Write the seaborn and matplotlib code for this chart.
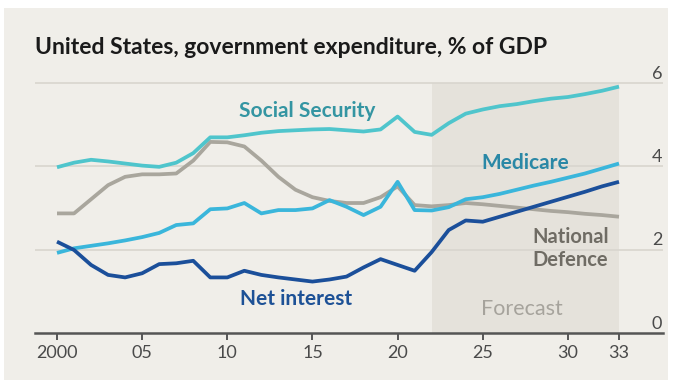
import numpy as np
import pandas as pd
import matplotlib
matplotlib.use("Agg")
import matplotlib.pyplot as plt
import seaborn as sns

years = list(range(2000, 2034))
social_security = [3.98, 4.09, 4.16, 4.12, 4.07, 4.02, 3.99, 4.09, 4.32, 4.70, 4.70, 4.75,
                   4.81, 4.85, 4.87, 4.89, 4.90, 4.87, 4.84, 4.89, 5.20, 4.83, 4.76, 5.04,
                   5.27, 5.37, 5.45, 5.50, 5.57, 5.63, 5.67, 5.74, 5.82, 5.92]
national_defence = [2.87, 2.87, 3.21, 3.55, 3.75, 3.81, 3.81, 3.83, 4.14, 4.59, 4.58, 4.48,
                    4.14, 3.75, 3.44, 3.26, 3.17, 3.12, 3.12, 3.26, 3.52, 3.07, 3.04, 3.07,
                    3.12, 3.09, 3.05, 3.01, 2.97, 2.93, 2.90, 2.86, 2.83, 2.79]
medicare = [1.92, 2.03, 2.09, 2.15, 2.22, 2.30, 2.40, 2.59, 2.63, 2.97, 2.99, 3.12,
            2.87, 2.95, 2.95, 2.99, 3.19, 3.03, 2.83, 3.03, 3.63, 2.95, 2.94, 3.02,
            3.21, 3.26, 3.34, 3.44, 3.54, 3.63, 3.73, 3.83, 3.95, 4.07]
net_interest = [2.19, 1.99, 1.63, 1.39, 1.33, 1.43, 1.65, 1.67, 1.73, 1.33, 1.33, 1.49,
                1.39, 1.33, 1.28, 1.23, 1.28, 1.35, 1.57, 1.77, 1.63, 1.49, 1.94, 2.47,
                2.70, 2.67, 2.79, 2.91, 3.03, 3.15, 3.27, 3.39, 3.52, 3.63]

series_names = ["National Defence", "Medicare", "Net interest", "Social Security"]
series_colors = {"National Defence": "#a9a69d", "Medicare": "#3ab6db",
                 "Net interest": "#1b4f9a", "Social Security": "#4fc5cc"}
label_colors = {"National Defence": "#6f6c64", "Medicare": "#2a88a6",
                "Net interest": "#1d5196", "Social Security": "#3495a2"}

x_tick_values = [2000, 2005, 2010, 2015, 2020, 2025, 2030, 2033]
x_tick_labels = ["2000", "05", "10", "15", "20", "25", "30", "33"]
y_tick_values = [0, 2, 4, 6]
forecast_start, forecast_end = 2022, 2033
title = "United States, government expenditure, % of GDP"

df = pd.DataFrame({
    "year": years * 4,
    "value": national_defence + medicare + net_interest + social_security,
    "series": (["National Defence"] * len(years) + ["Medicare"] * len(years)
               + ["Net interest"] * len(years) + ["Social Security"] * len(years)),
})

sns.set_theme(style="white")
plt.rcParams["font.family"] = ["Lato", "DejaVu Sans"]

W, H = 685, 385
fig = plt.figure(figsize=(W / 100, H / 100), dpi=100, facecolor="white")
bg = "#f0eee9"
fig.patches.append(plt.Rectangle((4 / W, 5 / H), (668 - 4) / W, (377 - 5) / H,
                                 transform=fig.transFigure, facecolor=bg,
                                 edgecolor="none", zorder=-10))

ax = fig.add_axes([35 / W, 1 - 332.7 / H, (663 - 35) / W, (332.7 - 83.3) / H])
ax.set_zorder(5)
ax.patch.set_visible(False)
ax.set_xlim(2000 - 22 / 17.03, 2033 + 44 / 17.03)
ax.set_ylim(0, 6)

ax.axvspan(forecast_start, forecast_end, color="#e5e2db", zorder=0, lw=0)
for v in y_tick_values[1:]:
    ax.axhline(v, color="#d8d5ce", lw=1.2, zorder=1)

sns.lineplot(data=df, x="year", y="value", hue="series", hue_order=series_names,
             palette=series_colors, linewidth=2.7, legend=False, ax=ax, zorder=3)
for ln in ax.lines:
    ln.set_clip_on(False)
    ln.set_solid_capstyle("butt")
    ln.set_solid_joinstyle("round")

for s in ["top", "right", "left"]:
    ax.spines[s].set_visible(False)
ax.spines["bottom"].set_color("#555555")
ax.spines["bottom"].set_linewidth(1.8)
ax.spines["bottom"].set_zorder(4)

ax.set_xticks(x_tick_values)
ax.set_xticklabels(x_tick_labels)
ax.tick_params(axis="x", direction="out", length=5, width=1.4, color="#555555",
               labelsize=13, labelcolor="#4a4a4a", pad=4, bottom=True)
ax.set_yticks([])
ax.set_xlabel("")
ax.set_ylabel("")

for v in y_tick_values:
    ax.text(2033 + 38 / 17.03, v + 0.22, str(v), ha="center", va="center",
            fontsize=13, color="#4a4a4a")

ax.text(2014.68, 5.33, "Social Security", ha="center", va="center", fontsize=15,
        fontweight="bold", color=label_colors["Social Security"])
ax.text(2027.48, 4.08, "Medicare", ha="center", va="center", fontsize=15,
        fontweight="bold", color=label_colors["Medicare"])
ax.text(2027.89, 2.03, "National\nDefence", ha="left", va="center", fontsize=14.5,
        fontweight="bold", color=label_colors["National Defence"], linespacing=1.15)
ax.text(2014.03, 0.81, "Net interest", ha="center", va="center", fontsize=15,
        fontweight="bold", color=label_colors["Net interest"])
ax.text(2027.3, 0.57, "Forecast", ha="center", va="center", fontsize=15.5,
        color="#a6a39c")

fig.text(35 / W, 1 - 47 / H, title, ha="left", va="center", fontsize=16.5,
         fontweight="bold", color="#1a1a1a")

fig.savefig("out.png", dpi=100, facecolor="white")
